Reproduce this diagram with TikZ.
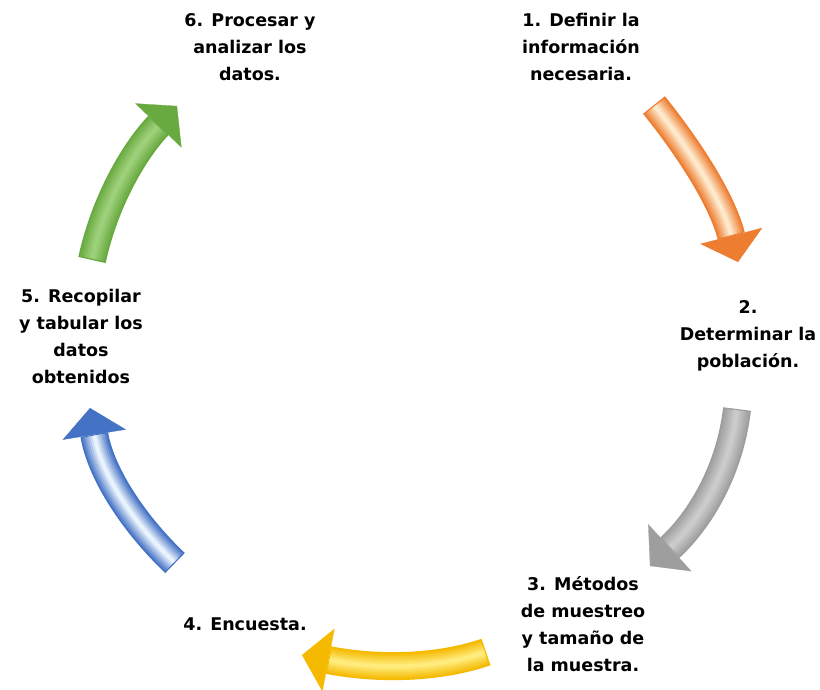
\documentclass[tikz,border=0pt]{standalone}
\usepackage{fontspec}
\setmainfont{DejaVu Sans}
\usetikzlibrary{arrows.meta}
\definecolor{orA}{RGB}{237,125,49}\definecolor{orC}{RGB}{255,238,210}
\definecolor{grA}{RGB}{158,158,158}\definecolor{grC}{RGB}{205,205,205}
\definecolor{yeA}{RGB}{245,185,0}\definecolor{yeC}{RGB}{255,238,130}
\definecolor{blA}{RGB}{68,114,196}\definecolor{blC}{RGB}{240,248,255}
\definecolor{gnA}{RGB}{104,170,64}\definecolor{gnC}{RGB}{160,210,125}
\newcommand{\carrow}[5]{%
  \draw[arr=#1] (#3) .. controls #5 .. (#4);
  \foreach \i in {1,...,6}{%
    \pgfmathsetmacro{\w}{28-4*\i}%
    \pgfmathsetmacro{\p}{100-16*\i}%
    \draw[line width=\w pt,draw=#1!\p!#2,shorten >=28pt,shorten <=1.5pt] (#3) .. controls #5 .. (#4);
  }
}
\begin{document}
\begin{tikzpicture}[x=1pt,y=-1pt,
  lbl/.style={font=\fontsize{17.5}{27}\selectfont\bfseries, align=center, inner sep=0pt},
  arr/.style={line width=28pt, -{Triangle[length=27pt,width=64pt,line width=0.3pt]}, draw=#1, fill=#1}]
\useasboundingbox (0,0) rectangle (820,689);
\node[lbl] (n1) at (581,47) {1. Definir la\\información\\necesaria.};
\node[lbl] (n2) at (748,336) {2.\\Determinar la\\población.};
\node[lbl] (n3) at (583,624) {3. Métodos\\de muestreo\\y tamaño de\\la muestra.};
\node[lbl] (n4) at (245,624) {4. Encuesta.};
\node[lbl] (n5) at (81,336) {5. Recopilar\\y tabular los\\datos\\obtenidos};
\node[lbl] (n6) at (250,47) {6. Procesar y\\analizar los\\datos.};
\coordinate (o1) at (654,105); \coordinate (o2) at (738,262);
\coordinate (g1) at (737,409); \coordinate (g2) at (650,566);
\coordinate (y1) at (486,652); \coordinate (y2) at (302,655);
\coordinate (b1) at (175,563); \coordinate (b2) at (90,408);
\coordinate (e1) at (92,260);  \coordinate (e2) at (177,106);
\carrow{orA}{orC}{o1}{o2}{(690,150) and (722,200)}
\carrow{grA}{grC}{g1}{g2}{(730,470) and (700,520)}
\carrow{yeA}{yeC}{y1}{y2}{(440,668) and (380,670)}
\carrow{blA}{blC}{b1}{b2}{(130,520) and (100,470)}
\carrow{gnA}{gnC}{e1}{e2}{(105,200) and (135,150)}
\end{tikzpicture}
\end{document}
